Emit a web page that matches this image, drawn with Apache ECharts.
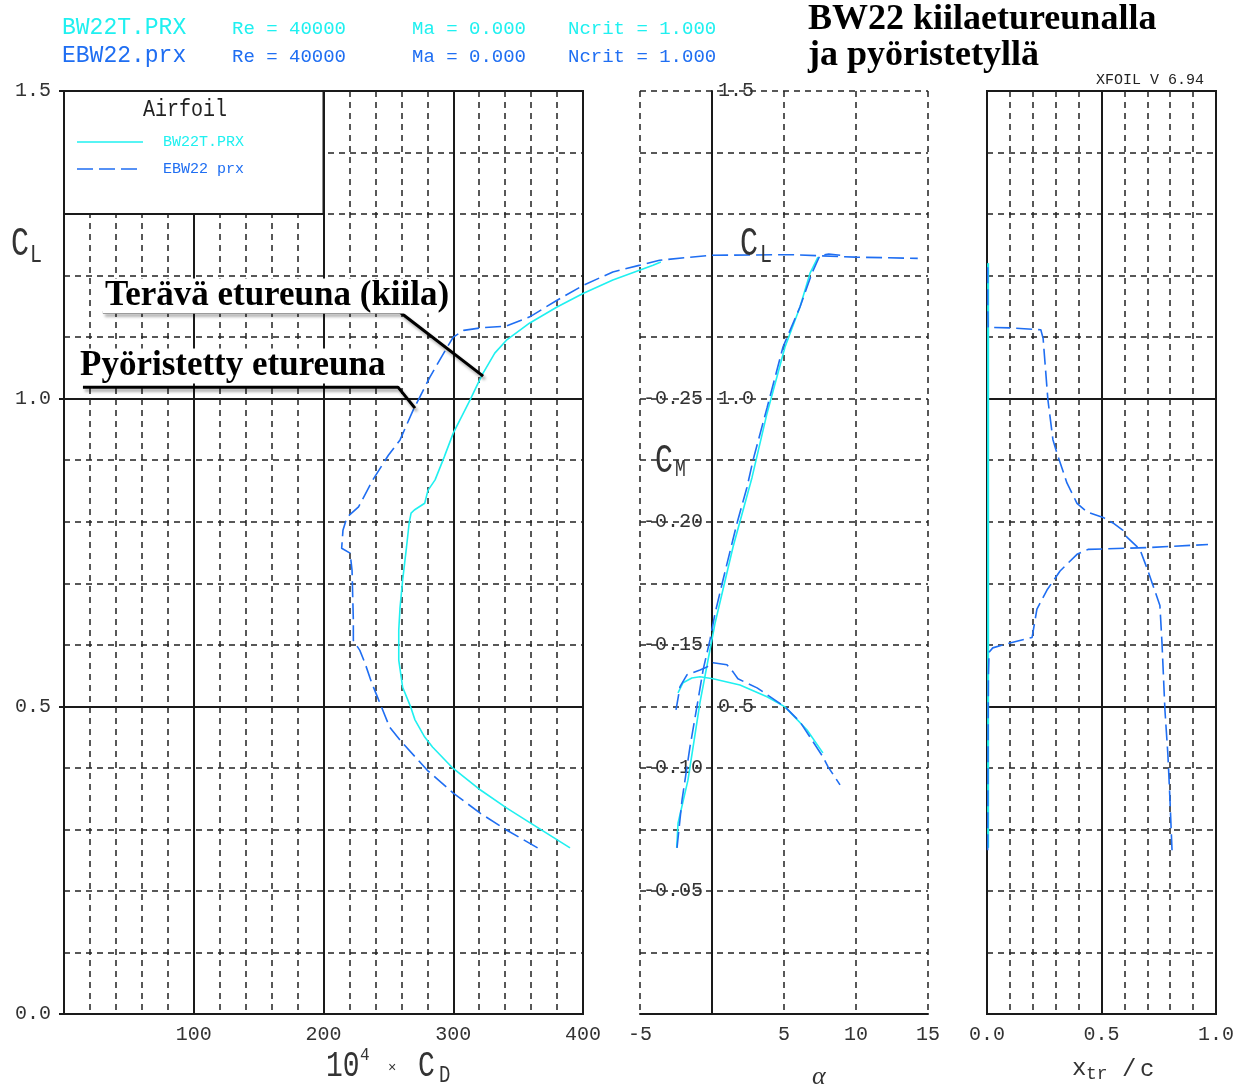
<!DOCTYPE html>
<html>
<head>
<meta charset="utf-8">
<title>BW22 kiilaetureunalla ja pyöristetyllä</title>
<script src="https://cdn.jsdelivr.net/npm/echarts/dist/echarts.min.js"></script>
<style>
  html, body { margin: 0; padding: 0; background: #fff; }
  #chart { width: 1248px; height: 1086px; }
</style>
</head>
<body>
<div id="chart"></div>
<script>
// BW22T.PRX = terävä etureuna (kiila), EBW22.prx = pyöristetty etureuna
// CL - 10^4*CD
const bw22tDrag = [
  [390, 0.270], [359, 0.311], [341, 0.335], [321, 0.364], [299, 0.401], [284, 0.434],
  [278, 0.450], [270.5, 0.478], [267, 0.500], [261, 0.531], [258, 0.575], [258, 0.624],
  [259, 0.661], [261, 0.705], [264, 0.759], [266, 0.798], [267.5, 0.814], [270, 0.819],
  [278, 0.830], [280.5, 0.851], [286, 0.868], [293, 0.905], [300, 0.944], [313, 0.998],
  [322, 1.038], [332, 1.074], [341, 1.095], [359, 1.123], [380, 1.149], [400, 1.171],
  [423, 1.193], [454, 1.217], [460, 1.222]
]
const ebw22Drag = [
  [365, 0.270], [341, 0.299], [321, 0.326], [300, 0.359], [280, 0.396], [259, 0.445],
  [251, 0.466], [242, 0.513], [237, 0.539], [232, 0.570], [228, 0.591], [223, 0.607],
  [223, 0.640], [222, 0.721], [220.5, 0.749], [214, 0.757], [215, 0.786], [218, 0.807],
  [227, 0.824], [238, 0.868], [250, 0.908], [259, 0.933], [269, 0.981], [282, 1.035],
  [294, 1.079], [300, 1.100], [308, 1.111], [321, 1.115], [341, 1.118], [359, 1.133],
  [380, 1.160], [400, 1.184], [423, 1.206], [444, 1.217], [459, 1.225], [498, 1.233],
  [560, 1.234], [610, 1.230], [658, 1.228]
]
// CL - alpha
const bw22tLift = [
  [-2.45, 0.270], [-2.36, 0.310], [-1.67, 0.380], [-0.83, 0.507], [0.21, 0.635], [1.46, 0.759],
  [2.78, 0.872], [3.82, 0.976], [5.07, 1.084], [6.11, 1.149], [6.81, 1.204], [7.36, 1.230]
]
const ebw22Lift = [
  [-2.43, 0.270], [-2.08, 0.348], [-1.53, 0.434], [-0.97, 0.510], [-0.62, 0.559], [-0.14, 0.608],
  [0.21, 0.651], [0.76, 0.705], [1.74, 0.798], [2.43, 0.856], [2.85, 0.900], [3.82, 0.985],
  [4.93, 1.084], [6.11, 1.149], [6.94, 1.204], [7.5, 1.233], [8.1, 1.235], [8.9, 1.233]
]
// CM - alpha
const bw22tMoment = [
  [-2.36, -0.1305], [-2.01, -0.1346], [-1.4, -0.1365], [-0.83, -0.137], [0.07, -0.1362],
  [1.94, -0.1337], [3.82, -0.1289], [5.07, -0.1248], [6.6, -0.1154], [7.7, -0.1061]
]
const ebw22Moment = [
  [-2.5, -0.1236], [-2.22, -0.133], [-1.74, -0.1378], [-0.83, -0.1398], [-0.35, -0.141],
  [0.07, -0.1427], [1.04, -0.1419], [1.46, -0.139], [1.8, -0.1362], [3.13, -0.1325],
  [5.07, -0.1248], [6.11, -0.1187], [7.7, -0.1045], [8.06, -0.1004], [8.89, -0.0931]
]
// CL - xtr/c (top & bottom)
const bw22tXtrTop = [[0.004, 0.27], [0.004, 0.50], [0.004, 0.76], [0.004, 1.00], [0.004, 1.22]]
const bw22tXtrBot = [[0.006, 0.27], [0.006, 0.50], [0.006, 0.76], [0.006, 1.00], [0.006, 1.22]]
const ebw22XtrTop = [
  [0.808, 0.266], [0.799, 0.348], [0.790, 0.421], [0.777, 0.494], [0.764, 0.604], [0.755, 0.664],
  [0.703, 0.720], [0.668, 0.755], [0.611, 0.775], [0.594, 0.786], [0.550, 0.798], [0.507, 0.807],
  [0.437, 0.816], [0.393, 0.830], [0.349, 0.863], [0.305, 0.912], [0.288, 0.933], [0.266, 0.998],
  [0.245, 1.098], [0.235, 1.112], [0.10, 1.115], [0.005, 1.116], [0.003, 1.15], [0.003, 1.22]
]
const ebw22XtrBot = [
  [0.003, 0.266], [0.004, 0.40], [0.006, 0.55], [0.009, 0.588], [0.025, 0.595], [0.10, 0.603],
  [0.197, 0.612], [0.218, 0.658], [0.262, 0.689], [0.319, 0.720], [0.393, 0.747], [0.441, 0.755],
  [0.70, 0.758], [0.965, 0.763]
]
const cmTickLabels = [-0.25, -0.20, -0.15, -0.10, -0.05]
const clMidLabels = [1.5, 1.0, 0.5]

const CYAN = '#1ff0f0'
const BLUE = '#1f6ef2'
const MONO = '"Liberation Mono", "DejaVu Sans Mono", monospace'
const SERIF = '"Liberation Serif", "DejaVu Serif", serif'
const INK = '#1a1a1a'
const solid = { color: INK, width: 2 }
const dashed = { color: '#222', width: 1.5, type: [6, 5] }
const tickFont = { fontFamily: MONO, fontSize: 20, color: '#333' }

const G0 = { left: 64, top: 91, width: 519, height: 923 }
const G1 = { left: 640, top: 91, width: 288, height: 923 }
const G2 = { left: 987, top: 91, width: 229, height: 923 }
// the drag polar runs on past CD = 400 into the alpha panel, so it gets a wider hidden grid
const CD_OVER = 660
const G3 = { left: G0.left, top: G0.top, width: G0.width * CD_OVER / 400, height: G0.height }

function curve (data, xi, yi, color, dash) {
  return {
    type: 'line',
    xAxisIndex: xi,
    yAxisIndex: yi,
    data: data,
    symbol: 'none',
    clip: false,
    silent: true,
    z: 5,
    lineStyle: { color: color, width: 1.6, type: dash ? [16, 6] : 'solid' }
  }
}

// leader lines of the annotations, in CD / CL units
const teravaLeader = [[30, 1.1405], [259, 1.1405], [323, 1.0366]]
const pyoristettyLeader = [[14.6, 1.0187], [257.4, 1.0187], [270.5, 0.9846]]

function leader (data) {
  return {
    type: 'line',
    xAxisIndex: 0,
    yAxisIndex: 0,
    data: data,
    symbol: 'none',
    silent: true,
    z: 6,
    lineStyle: {
      color: '#000',
      width: 3,
      shadowColor: 'rgba(0,0,0,0.35)',
      shadowBlur: 3,
      shadowOffsetX: 2,
      shadowOffsetY: 3
    }
  }
}

function txt (text, x, y, size, color, extra) {
  let el = {
    type: 'text',
    x: x,
    y: y,
    z: 10,
    silent: true,
    style: {
      text: text,
      font: size + 'px ' + MONO,
      fill: color || '#333',
      align: 'left',
      verticalAlign: 'middle'
    }
  }
  if (extra) {
    Object.assign(el.style, extra.style || {})
    if (extra.scaleY) el.scaleY = extra.scaleY
  }
  return el
}

const legendRight = G0.left + G0.width * 200 / 400
const legendBottom = G0.top + G0.height * (1.5 - 1.3) / 1.5

let myChart = echarts.init(document.getElementById('chart'))
myChart.setOption({
  animation: false,
  backgroundColor: '#fff',
  grid: [
    Object.assign({ show: true, borderColor: INK, borderWidth: 2, backgroundColor: 'transparent', containLabel: false, outerBoundsMode: 'none' }, G0),
    Object.assign({ show: false, containLabel: false, outerBoundsMode: 'none' }, G1),
    Object.assign({ show: true, borderColor: INK, borderWidth: 2, backgroundColor: 'transparent', containLabel: false, outerBoundsMode: 'none' }, G2),
    Object.assign({ show: false, containLabel: false, outerBoundsMode: 'none' }, G3)
  ],
  xAxis: [
    {
      gridIndex: 0, type: 'value', min: 0, max: 400, interval: 100,
      axisLine: { onZero: false, lineStyle: solid },
      axisTick: { show: false },
      minorTick: { show: false, splitNumber: 5 },
      axisLabel: Object.assign({ margin: 11, formatter: v => v === 0 ? '' : String(v) }, tickFont),
      splitLine: { show: true, lineStyle: solid },
      minorSplitLine: { show: true, lineStyle: dashed }
    },
    {
      gridIndex: 1, type: 'value', min: -5, max: 15, interval: 5,
      axisLine: { onZero: false, lineStyle: solid },
      axisTick: { show: false },
      axisLabel: Object.assign({ margin: 11, formatter: v => v === 0 ? '' : String(v) }, tickFont),
      splitLine: { show: true, lineStyle: dashed }
    },
    {
      gridIndex: 2, type: 'value', min: 0, max: 1, interval: 0.5,
      axisLine: { onZero: false, lineStyle: solid },
      axisTick: { show: false },
      minorTick: { show: false, splitNumber: 5 },
      axisLabel: Object.assign({ margin: 11, formatter: v => v.toFixed(1) }, tickFont),
      splitLine: { show: true, lineStyle: solid },
      minorSplitLine: { show: true, lineStyle: dashed }
    },
    { gridIndex: 3, type: 'value', min: 0, max: CD_OVER, show: false }
  ],
  yAxis: [
    {
      gridIndex: 0, type: 'value', min: 0, max: 1.5, interval: 0.5,
      axisLine: { show: true, onZero: false, lineStyle: solid },
      axisTick: { show: true, length: 5, lineStyle: solid },
      minorTick: { show: false, splitNumber: 5 },
      axisLabel: Object.assign({ margin: 13, formatter: v => v.toFixed(1) }, tickFont),
      splitLine: { show: true, lineStyle: solid },
      minorSplitLine: { show: true, lineStyle: dashed }
    },
    {
      // CL axis of the middle panel, standing at alpha = 0
      gridIndex: 1, type: 'value', min: 0, max: 1.5, interval: 0.1,
      position: 'left', offset: -(G1.width * 5 / 20),
      axisLine: { show: true, onZero: false, lineStyle: solid },
      axisTick: { show: false },
      axisLabel: Object.assign({
        inside: true, margin: 6,
        formatter: v => clMidLabels.indexOf(Math.round(v * 10) / 10) >= 0 ? v.toFixed(1) : ''
      }, tickFont),
      splitLine: { show: true, lineStyle: dashed }
    },
    {
      // CM axis, same place, negative upwards
      gridIndex: 1, type: 'value', min: -0.375, max: 0, interval: 0.025, inverse: true,
      position: 'left', offset: -(G1.width * 5 / 20),
      axisLine: { show: false, onZero: false },
      axisTick: { show: false },
      axisLabel: Object.assign({
        margin: 9,
        formatter: v => cmTickLabels.indexOf(Math.round(v * 100) / 100) >= 0 ? v.toFixed(2) : ''
      }, tickFont),
      splitLine: { show: false }
    },
    {
      gridIndex: 2, type: 'value', min: 0, max: 1.5, interval: 0.5,
      axisLine: { show: true, onZero: false, lineStyle: solid },
      axisTick: { show: false },
      minorTick: { show: false, splitNumber: 5 },
      axisLabel: { show: false },
      splitLine: { show: true, lineStyle: solid },
      minorSplitLine: { show: true, lineStyle: dashed }
    },
    { gridIndex: 3, type: 'value', min: 0, max: 1.5, show: false }
  ],
  series: [
    curve(bw22tDrag, 3, 4, CYAN, false),
    curve(ebw22Drag, 3, 4, BLUE, true),
    curve(bw22tLift, 1, 1, CYAN, false),
    curve(ebw22Lift, 1, 1, BLUE, true),
    curve(bw22tMoment, 1, 2, CYAN, false),
    curve(ebw22Moment, 1, 2, BLUE, true),
    curve(bw22tXtrTop, 2, 3, CYAN, false),
    curve(bw22tXtrBot, 2, 3, CYAN, false),
    curve(ebw22XtrTop, 2, 3, BLUE, true),
    curve(ebw22XtrBot, 2, 3, BLUE, true),
    leader(teravaLeader),
    leader(pyoristettyLeader)
  ],
  graphic: [
    // header
    txt('BW22T.PRX', 62, 28, 23, CYAN),
    txt('Re = 40000', 232, 29, 19, CYAN),
    txt('Ma = 0.000', 412, 29, 19, CYAN),
    txt('Ncrit = 1.000', 568, 29, 19, CYAN),
    txt('EBW22.prx', 62, 56, 23, BLUE),
    txt('Re = 40000', 232, 57, 19, BLUE),
    txt('Ma = 0.000', 412, 57, 19, BLUE),
    txt('Ncrit = 1.000', 568, 57, 19, BLUE),
    txt('BW22 kiilaetureunalla', 808, 20, 36, '#000', { style: { font: 'bold 36px ' + SERIF } }),
    txt('ja pyöristetyllä', 808, 56, 36, '#000', { style: { font: 'bold 36px ' + SERIF } }),
    txt('XFOIL V 6.94', 1096, 80, 15, '#222'),
    // legend box
    {
      type: 'rect', z: 8, silent: true,
      shape: { x: G0.left, y: G0.top, width: legendRight - G0.left, height: legendBottom - G0.top },
      style: { fill: '#fff', stroke: INK, lineWidth: 2 }
    },
    txt('Airfoil', 143, 110, 20, '#222', { scaleY: 1.2 }),
    { type: 'line', z: 10, silent: true, shape: { x1: 77, y1: 142, x2: 143, y2: 142 }, style: { stroke: CYAN, lineWidth: 1.6 } },
    { type: 'line', z: 10, silent: true, shape: { x1: 77, y1: 169, x2: 143, y2: 169 }, style: { stroke: BLUE, lineWidth: 1.6, lineDash: [16, 6] } },
    txt('BW22T.PRX', 163, 142, 15, CYAN),
    txt('EBW22 prx', 163, 169, 15, BLUE),
    // annotations
    txt('Terävä etureuna (kiila)', 103, 296, 35, '#000', { style: { font: 'bold 35px ' + SERIF, backgroundColor: '#fff', padding: [0, 2, 0, 2] } }),
    txt('Pyöristetty etureuna', 78, 366, 35, '#000', { style: { font: 'bold 35px ' + SERIF, backgroundColor: '#fff', padding: [0, 2, 0, 2] } }),
    // axis titles
    txt('C', 11, 244, 30, '#333', { scaleY: 1.35 }),
    txt('L', 30, 255, 20, '#333', { scaleY: 1.3 }),
    txt('10', 326, 1066, 28, '#333', { scaleY: 1.35 }),
    txt('4', 360, 1055, 16, '#333', { scaleY: 1.2 }),
    txt('×', 388, 1068, 14, '#333'),
    txt('C', 418, 1066, 28, '#333', { scaleY: 1.35 }),
    txt('D', 439, 1075, 19, '#333', { scaleY: 1.3 }),
    txt('α', 812, 1077, 26, '#333', { style: { font: 'italic 26px ' + SERIF } }),
    txt('C', 740, 244, 30, '#333', { scaleY: 1.35 }),
    txt('L', 760, 255, 20, '#333', { scaleY: 1.3 }),
    txt('C', 655, 461, 30, '#333', { scaleY: 1.35 }),
    txt('M', 675, 470, 18, '#333', { scaleY: 1.3 }),
    txt('x', 1072, 1069, 24, '#333'),
    txt('tr', 1086, 1074, 18, '#333'),
    txt('/', 1122, 1070, 24, '#333'),
    txt('c', 1140, 1070, 24, '#333')
  ]
})
</script>
</body>
</html>
